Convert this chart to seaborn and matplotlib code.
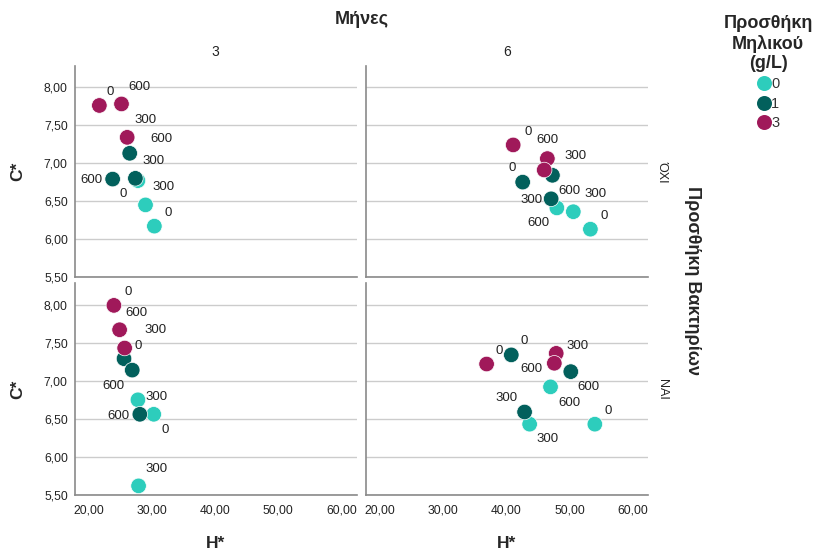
import matplotlib
matplotlib.use("Agg")
import matplotlib.pyplot as plt
from matplotlib.ticker import FuncFormatter
import pandas as pd
import seaborn as sns

# panels: (months, bacteria added)
panel_months = [3, 6, 3, 6]
panel_bacteria = ["ΌΧΙ", "ΌΧΙ", "ΝΑΙ", "ΝΑΙ"]
apple_levels = [0, 1, 3]
apple_colors = ["#2dcdbc", "#02605c", "#a0195a"]
apple_per_point = [0, 0, 0, 1, 1, 1, 3, 3, 3]

h_star = [
    [27.8, 29.0, 30.4, 26.5, 27.4, 23.8, 21.7, 25.2, 26.1],
    [48.0, 50.6, 53.3, 47.3, 42.6, 47.1, 41.1, 46.5, 46.0],
    [27.8, 30.3, 27.9, 25.6, 26.9, 28.1, 24.0, 24.9, 25.7],
    [47.0, 43.7, 54.0, 40.8, 50.2, 42.9, 36.9, 47.9, 47.6],
]
c_star = [
    [6.77, 6.45, 6.17, 7.13, 6.80, 6.79, 7.76, 7.78, 7.34],
    [6.41, 6.36, 6.13, 6.84, 6.75, 6.53, 7.24, 7.06, 6.91],
    [6.75, 6.56, 5.62, 7.29, 7.14, 6.56, 7.99, 7.67, 7.43],
    [6.92, 6.43, 6.43, 7.34, 7.12, 6.59, 7.22, 7.36, 7.23],
]
dose_labels = [
    ["0", "300", "0", "600", "300", "600", "0", "600", "300"],
    ["600", "300", "0", "600", "0", "300", "0", "600", "300"],
    ["300", "0", "300", "0", "600", "600", "0", "600", "300"],
    ["600", "300", "0", "0", "600", "300", "0", "300", "600"],
]

# where SPSS put each point label (pixel offsets from the point)
label_offsets = [
    [(-15, -13), (18, 18), (14, 13), (32, 14), (18, 17), (-21, -1), (11, 13), (18, 17), (18, 17)],
    [(-18, -15), (22, 18), (14, 13), (17, -16), (-10, 14), (-20, -1), (15, 13), (0, 19), (31, 14)],
    [(19, 3), (11, -16), (18, 17), (14, 13), (-19, -16), (-21, -2), (14, 13), (17, 17), (31, 18)],
    [(19, -16), (18, -15), (13, 13), (13, 14), (18, -15), (-18, 14), (13, 13), (21, 7), (-23, -6)],
]

sns.set_style("white")
plt.rcParams["font.family"] = ["Liberation Sans", "DejaVu Sans"]

W, H = 814, 555
fig, axes = plt.subplots(2, 2, figsize=(W / 100, H / 100), dpi=100)
axes = axes.ravel()

# axes boxes in pixels: (left, top, right, bottom)
boxes = [
    (74.7, 66, 356.7, 277),
    (365.7, 66, 648, 277),
    (74.7, 283.3, 356.7, 495),
    (365.7, 283.3, 648, 495),
]

fmt = FuncFormatter(lambda v, p: f"{v:.2f}".replace(".", ","))

for i, ax in enumerate(axes):
    l, t, r, b = boxes[i]
    ax.set_position([l / W, 1 - b / H, (r - l) / W, (b - t) / H])

    df = pd.DataFrame({
        "H": h_star[i],
        "C": c_star[i],
        "apple": apple_per_point,
        "dose": dose_labels[i],
    })
    sns.scatterplot(data=df, x="H", y="C", hue="apple", hue_order=apple_levels,
                    palette=apple_colors, s=125, edgecolor="white", linewidth=0.5,
                    legend=(i == 1), ax=ax, zorder=3)

    for j, row in df.iterrows():
        ax.annotate(row["dose"], (row["H"], row["C"]), xytext=label_offsets[i][j],
                    textcoords="offset pixels", ha="center", va="center",
                    fontsize=9.5, color="#222222", zorder=4)

    ax.set_xlim(17.8, 62.4)
    ax.set_ylim(5.5, 8.28)
    ax.set_xticks([20, 30, 40, 50, 60])
    ax.set_yticks([5.5, 6.0, 6.5, 7.0, 7.5, 8.0])
    ax.xaxis.set_major_formatter(fmt)
    ax.yaxis.set_major_formatter(fmt)
    ax.tick_params(length=0, labelsize=8.7, labelcolor="#222222", pad=5)
    ax.tick_params(axis="x", pad=7)
    ax.yaxis.grid(True, color="#cccccc", linewidth=1)
    ax.set_axisbelow(True)
    for side in ["top", "right"]:
        ax.spines[side].set_visible(False)
    for side in ["left", "bottom"]:
        ax.spines[side].set_color("#8a8a8a")
        ax.spines[side].set_linewidth(1.2)
    ax.set_xlabel("")
    ax.set_ylabel("")
    if i < 2:
        ax.set_xticklabels([])
    if i % 2 == 1:
        ax.set_yticklabels([])

# legend
handles, labels = axes[1].get_legend_handles_labels()
axes[1].get_legend().remove()
for hnd in handles:
    hnd.set_markersize(10.8)
    hnd.set_markeredgewidth(0)
leg = fig.legend(handles, [str(a) for a in apple_levels],
                 title="Προσθήκη\nΜηλικού\n(g/L)", loc="upper center",
                 bbox_to_anchor=(768 / W, 1 - 9 / H), frameon=False,
                 fontsize=10.5, handletextpad=0.0, handlelength=1.0,
                 labelspacing=0.36, borderaxespad=0)
leg.get_title().set_fontweight("bold")
leg.get_title().set_fontsize(13)
leg.get_title().set_multialignment("center")
for txt in leg.get_texts():
    txt.set_color("#333333")

# facet titles and axis titles
fig.text(361.7 / W, 1 - 19 / H, "Μήνες", ha="center", va="center",
         fontsize=13, fontweight="bold")
fig.text(215.7 / W, 1 - 51.7 / H, str(panel_months[0]), ha="center", va="center",
         fontsize=10, color="#222222")
fig.text(506.9 / W, 1 - 51.7 / H, str(panel_months[1]), ha="center", va="center",
         fontsize=10, color="#222222")
fig.text(662 / W, 1 - 171.5 / H, panel_bacteria[0], ha="center", va="center",
         rotation=270, fontsize=9, color="#222222")
fig.text(662 / W, 1 - 389 / H, panel_bacteria[2], ha="center", va="center",
         rotation=270, fontsize=9, color="#222222")
fig.text(692 / W, 1 - 281 / H, "Προσθήκη Βακτηρίων", ha="center", va="center",
         rotation=270, fontsize=13, fontweight="bold")
for yc in [171.5, 389]:
    fig.text(18 / W, 1 - yc / H, "C*", ha="center", va="center", rotation=90,
             fontsize=12.5, fontweight="bold")
for xc in [215.7, 506.9]:
    fig.text(xc / W, 1 - 543 / H, "H*", ha="center", va="center",
             fontsize=12.5, fontweight="bold")

fig.savefig("out.png", dpi=100)
